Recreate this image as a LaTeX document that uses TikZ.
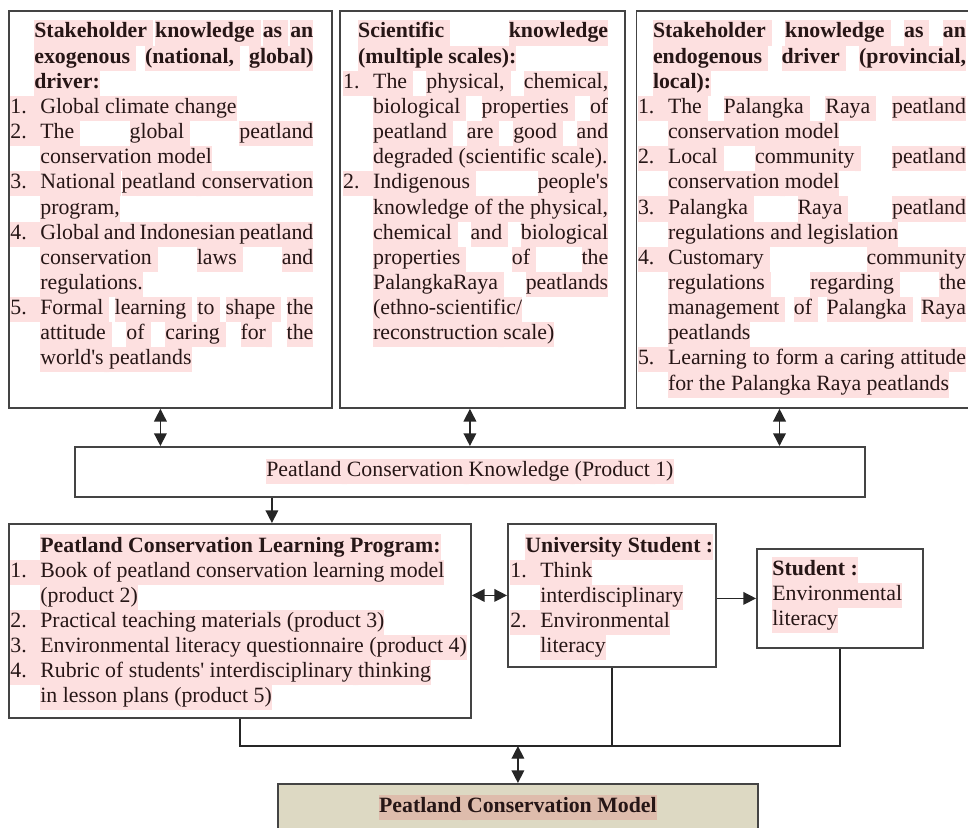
\documentclass[tikz,border=0pt]{standalone}
\usepackage{fontspec}
\setmainfont{Liberation Serif}
\usetikzlibrary{arrows.meta,positioning}
\definecolor{hlpink}{RGB}{253,224,224}
\definecolor{hltan}{RGB}{222,188,172}
\definecolor{tanfill}{RGB}{221,217,195}
\definecolor{inkcol}{RGB}{38,22,22}
\definecolor{linecol}{RGB}{68,68,68}
\colorlet{hlnow}{hlpink}
\hyphenpenalty=10000
\exhyphenpenalty=10000
\tolerance=10000
\hbadness=10000
\tikzstyle{box}=[rectangle,draw=linecol,line width=1pt,inner sep=0pt,
text=inkcol,font=\fontsize{12}{13.83}\selectfont]
\tikzstyle{txt}=[inner sep=0pt,anchor=base west,text=inkcol,align=justify,
font=\fontsize{12}{13.83}\selectfont]
\tikzstyle{link}=[draw=black!85,line width=0.8pt]
% highlighted text, word by word
\makeatletter
\newcommand{\hlword}[1]{\setbox0\hbox{#1}%
\rlap{{\color{hlnow}\vrule height.7\baselineskip depth.3\baselineskip width\wd0}}\box0}
\newcommand{\hlspace}{\xleaders\hbox{{\color{hlnow}\vrule height.7\baselineskip depth.3\baselineskip width.25pt}}%
\hskip\fontdimen2\font minus\fontdimen4\font\hskip0pt plus\fontdimen3\font\relax}
\def\hlt#1{\leavevmode\hlt@a#1 \@nil}
\def\hlt@a#1 #2\@nil{\hlword{#1}\ifx\relax#2\relax\expandafter\@gobble\else\expandafter\@firstofone\fi
{\hlspace\hlt@a#2\@nil}}
\makeatother
% numbered item with hanging indent
\newcommand{\itm}[1]{\par\hangindent=16.5pt\hangafter=1\noindent
\makebox[0pt][l]{\color{hlnow}\rule[-0.3\baselineskip]{16.5pt}{\baselineskip}}%
\makebox[16.5pt][l]{#1.}}
\newcommand{\head}[2]{{\leftskip=#1\bfseries\hlt{#2}\par}}
\newcommand{\ragged}{\rightskip=0pt plus 1fil\relax}
\newcommand{\q}{\textquotesingle}

\begin{document}
\begin{tikzpicture}[x=0.55pt,y=-0.55pt,>={Triangle[length=7pt,width=7pt]}]
            \useasboundingbox (0,0) rectangle (968,827);
            \clip (0,0) rectangle (968,827);

            % KNOWLEDGE SOURCES

            \node[box,anchor=north west,minimum width=177.65pt,minimum height=218.35pt] (exo) at (8,10) {};
            \node[box,right=3.3pt of exo,minimum width=156.75pt,minimum height=218.35pt] (sci) {};
            \node[box,right=5.5pt of sci,minimum width=184.25pt,minimum height=218.35pt] (endo) {};

            \node[txt,text width=166.65pt] (exotxt) at ([shift={(2,28)}]exo.north west) {%
              \head{13.2pt}{Stakeholder knowledge as an exogenous (national, global) driver:}
              \itm{1}\hlt{Global climate change}
              \itm{2}\hlt{The global peatland}\break\hlt{conservation model}
              \itm{3}\hlt{National peatland conservation}\break\hlt{program,}
              \itm{4}\hlt{Global and Indonesian peatland}\break\hlt{conservation laws and}\break\hlt{regulations.}
              \itm{5}\hlt{Formal learning to shape the}\break\hlt{attitude of caring for the}\break\hlt{world\q s peatlands}\par};
            \node[txt,text width=145.75pt] (scitxt) at ([shift={(4,28)}]sci.north west) {%
              \head{8.25pt}{Scientific knowledge (multiple scales):}
              \itm{1}\hlt{The physical, chemical,}\break\hlt{biological properties of}\break\hlt{peatland are good and}\break\hlt{degraded (scientific scale).}
              \itm{2}\hlt{Indigenous people\q s}\break\hlt{knowledge of the physical,}\break\hlt{chemical and biological}\break
              \hlt{properties of the}\break\hlt{PalangkaRaya peatlands}\break
              \hlt{(ethno-scientific/}\hfil\break\hlt{reconstruction scale)}\par};
            \node[txt,text width=180.4pt] (endotxt) at ([shift={(2,28)}]endo.north west) {%
              \head{8.25pt}{Stakeholder knowledge as an endogenous driver (provincial, local):}
              \itm{1}\hlt{The Palangka Raya peatland}\break\hlt{conservation model}
              \itm{2}\hlt{Local community peatland}\break\hlt{conservation model}
              \itm{3}\hlt{Palangka Raya peatland}\break\hlt{regulations and legislation}
              \itm{4}\hlt{Customary community}\break\hlt{regulations regarding the}\break\hlt{management of Palangka Raya}\break\hlt{peatlands}
              \itm{5}\hlt{Learning to form a caring attitude}\break\hlt{for the Palangka Raya peatlands}\par};

            % PRODUCT 1

            \node[box,anchor=north west,minimum width=434.5pt,minimum height=27.5pt] (prod) at (74,446)
              {\hlt{Peatland Conservation Knowledge (Product 1)}};

            \draw[link,<->] ([xshift=-5.5pt]exo.south) -- ([xshift=-5.5pt]exo.south |- prod.north);
            \draw[link,<->] (sci.south -| prod.north) -- (prod.north);
            \draw[link,<->] ([xshift=-13.5pt]endo.south) -- ([xshift=-13.5pt]endo.south |- prod.north);

            % LEARNING PROGRAM AND STUDENTS

            \node[box,anchor=north west,minimum width=254.1pt,minimum height=106.7pt] (learn) at (8,523) {};
            \node[box,anchor=north west,minimum width=114.4pt,minimum height=78.65pt] (univ) at (507,523) {};
            \node[box,anchor=north west,minimum width=91.3pt,minimum height=54.45pt] (stud) at (756,548) {};

            \node[txt,text width=253pt] (learntxt) at ([shift={(2,29)}]learn.north west) {%
              \ragged
              \head{16.5pt}{Peatland Conservation Learning Program:}
              \itm{1}\hlt{Book of peatland conservation learning model (product 2)}
              \itm{2}\hlt{Practical teaching materials (product 3)}
              \itm{3}\hlt{Environmental literacy questionnaire (product 4)}
              \itm{4}\hlt{Rubric of students\q{} interdisciplinary thinking}\break\hlt{in lesson plans (product 5)}\par};
            \node[txt,text width=116pt] (univtxt) at ([shift={(3,29)}]univ.north west) {%
              \ragged
              \head{8.25pt}{University Student :}
              \itm{1}\hlt{Think interdisciplinary}
              \itm{2}\hlt{Environmental literacy}\par};
            \node[txt,text width=80pt] (studtxt) at ([shift={(16,27)}]stud.north west) {%
              \ragged
              \head{0pt}{Student :}
              \noindent\hlt{Environmental literacy}\par};

            \draw[link,->] ([xshift=17.6pt]learn.north |- prod.south) -- ([xshift=17.6pt]learn.north);
            \draw[link,<->] (univ.west -| learn.east) -- (univ.west);
            \draw[link,->] (univ.east |- stud.west) -- (stud.west);

            % MODEL

            \node[box,fill=tanfill,anchor=north west,minimum width=264pt,minimum height=26.4pt] (model) at (277,783)
              {\colorlet{hlnow}{hltan}\bfseries\hlt{Peatland Conservation Model}};

            \coordinate (bus) at ([yshift=20.35pt]model.north);
            \draw[link] (learn.south) |- (bus) -| (stud.south);
            \draw[link] (univ.south) -- (univ.south |- bus);
            \draw[link,<->] (bus) -- (model.north);

\end{tikzpicture}
\end{document}
